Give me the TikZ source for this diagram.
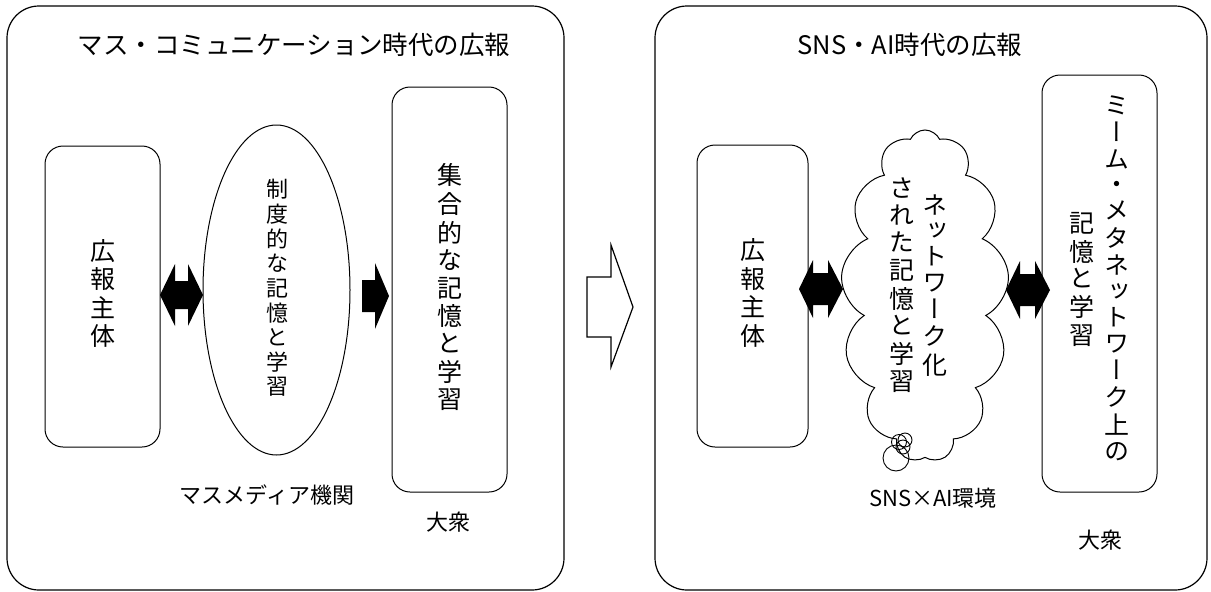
\documentclass[tikz,border=0pt]{standalone}
\usepackage{fontspec}
\setmainfont{Noto Sans CJK JP}
\newfontfamily\vfont[RawFeature=+vert]{Noto Sans CJK JP}
\usetikzlibrary{shapes.geometric,shapes.symbols,calc}
\newcommand\vtext[1]{\begin{tabular}[c]{@{}c@{}}#1\end{tabular}}
\begin{document}
\begin{tikzpicture}[x=1pt,y=-1pt,
  panel/.style={draw, line width=1.2pt, rounded corners=32pt, inner sep=0},
  box/.style={draw, line width=1pt, rounded corners=18pt, inner sep=0},
  lbl/.style={font=\fontsize{22}{25}\selectfont, inner sep=0},
  ttl/.style={font=\fontsize{25.5}{28}\selectfont, inner sep=0},
  vt/.style={font=\vfont\fontsize{25}{25.3}\selectfont, inner sep=0},
  vts/.style={font=\vfont\fontsize{22}{22.2}\selectfont, inner sep=0},
  fat/.style={fill=black, draw=none},
  hollow/.style={draw, line width=1.2pt, fill=white, line join=miter},
  bubble/.style={draw, line width=0.9pt},
]
\useasboundingbox (0,0) rectangle (1211,592);

% panels
\node[panel, minimum width=557, minimum height=584] (pL) at (285.5,298) {};
\node[panel, minimum width=552, minimum height=584] (pR) at (931,298) {};

% titles
\node[ttl] (tL) at (294,45) {マス・コミュニケーション時代の広報};
\node[ttl] (tR) at (910,45) {SNS・AI時代の広報};

% left panel
\node[box, minimum width=115, minimum height=301] (srcL) at (102.5,296.5) {};
\node[vt] (srcLt) at (srcL.center) {\vtext{広\\報\\主\\体}};
\node[draw, ellipse, line width=1pt, minimum width=147, minimum height=330, inner sep=0] (inst) at (276.5,290) {};
\node[vts] (instt) at (277,290) {\vtext{制\\度\\的\\な\\記\\憶\\と\\学\\習}};
\node[box, minimum width=115, minimum height=405] (pubL) at (449.5,289.5) {};
\node[vt] (pubLt) at (450,290) {\vtext{集\\合\\的\\な\\記\\憶\\と\\学\\習}};
\node[lbl] (mm) at (267,495) {マスメディア機関};
\node[lbl] (tsL) at (448,522) {大衆};

% left arrows
\coordinate (a1l) at (160,295);
\coordinate (a1r) at (203,295);
\fill[fat] (a1l) -- ($(a1l)+(15,-31)$) -- ($(a1l)+(15,-14)$) -- ($(a1r)+(-15,-14)$) -- ($(a1r)+(-15,-31)$) -- (a1r)
  -- ($(a1r)+(-15,31)$) -- ($(a1r)+(-15,14)$) -- ($(a1l)+(15,14)$) -- ($(a1l)+(15,31)$) -- cycle;
\coordinate (a2s) at (362,296);
\coordinate (a2t) at (389,296);
\fill[fat] ($(a2s)+(0,-16)$) -- ($(a2t)+(-14,-16)$) -- ($(a2t)+(-14,-33)$) -- (a2t) -- ($(a2t)+(-14,33)$) -- ($(a2t)+(-14,16)$) -- ($(a2s)+(0,16)$) -- cycle;

% big hollow arrow
\coordinate (bs) at (587,307);
\coordinate (bt) at (633,307);
\draw[hollow] ($(bs)+(0,-30)$) -- ($(bt)+(-22,-30)$) -- ($(bt)+(-22,-62)$) -- (bt) -- ($(bt)+(-22,60)$) -- ($(bt)+(-22,30)$) -- ($(bs)+(0,30)$) -- cycle;

% right panel
\node[box, minimum width=111, minimum height=302] (srcR) at (752.5,296) {};
\node[vt] (srcRt) at (srcR.center) {\vtext{広\\報\\主\\体}};
\node[cloud, draw, line width=1pt, cloud puffs=13, cloud puff arc=130, cloud ignores aspect,
  minimum width=168, minimum height=332, inner sep=0] (net) at (925,296) {};
\node[vt] (nett) at (918,288) {\vtext{さ\\れ\\た\\記\\憶\\と\\学\\習}\hspace{8pt}\vtext{ネ\\ッ\\ト\\ワ\\ー\\ク\\化}};
\node[bubble, circle, minimum size=15, inner sep=0] (c1) at (899,442) {};
\node[bubble, circle, minimum size=14, inner sep=0] (c2) at (905,440) {};
\node[bubble, circle, minimum size=14, inner sep=0] (c3) at (903,447) {};
\node[bubble, circle, minimum size=26, inner sep=0] (c4) at (896,458) {};
\node[box, minimum width=115, minimum height=417] (pubR) at (1099.5,283.5) {};
\node[vt] (pubRt) at (1099.5,282) {\vtext{記\\憶\\と\\学\\習}\hspace{10pt}\vtext{ミ\\ー\\ム\\・\\メ\\タ\\ネ\\ッ\\ト\\ワ\\ー\\ク\\上\\の}};
\node[lbl] (env) at (933,498) {SNS×AI環境};
\node[lbl] (tsR) at (1100,540) {大衆};

% right arrows
\coordinate (a3l) at (799,289);
\coordinate (a3r) at (843,289);
\fill[fat] (a3l) -- ($(a3l)+(14,-29)$) -- ($(a3l)+(14,-16)$) -- ($(a3r)+(-15,-16)$) -- ($(a3r)+(-15,-29)$) -- (a3r)
  -- ($(a3r)+(-15,29)$) -- ($(a3r)+(-15,16)$) -- ($(a3l)+(14,16)$) -- ($(a3l)+(14,29)$) -- cycle;
\coordinate (a4l) at (1006,290);
\coordinate (a4r) at (1050,290);
\fill[fat] (a4l) -- ($(a4l)+(14,-29)$) -- ($(a4l)+(14,-16)$) -- ($(a4r)+(-15,-16)$) -- ($(a4r)+(-15,-29)$) -- (a4r)
  -- ($(a4r)+(-15,29)$) -- ($(a4r)+(-15,16)$) -- ($(a4l)+(14,16)$) -- ($(a4l)+(14,29)$) -- cycle;
\end{tikzpicture}
\end{document}
